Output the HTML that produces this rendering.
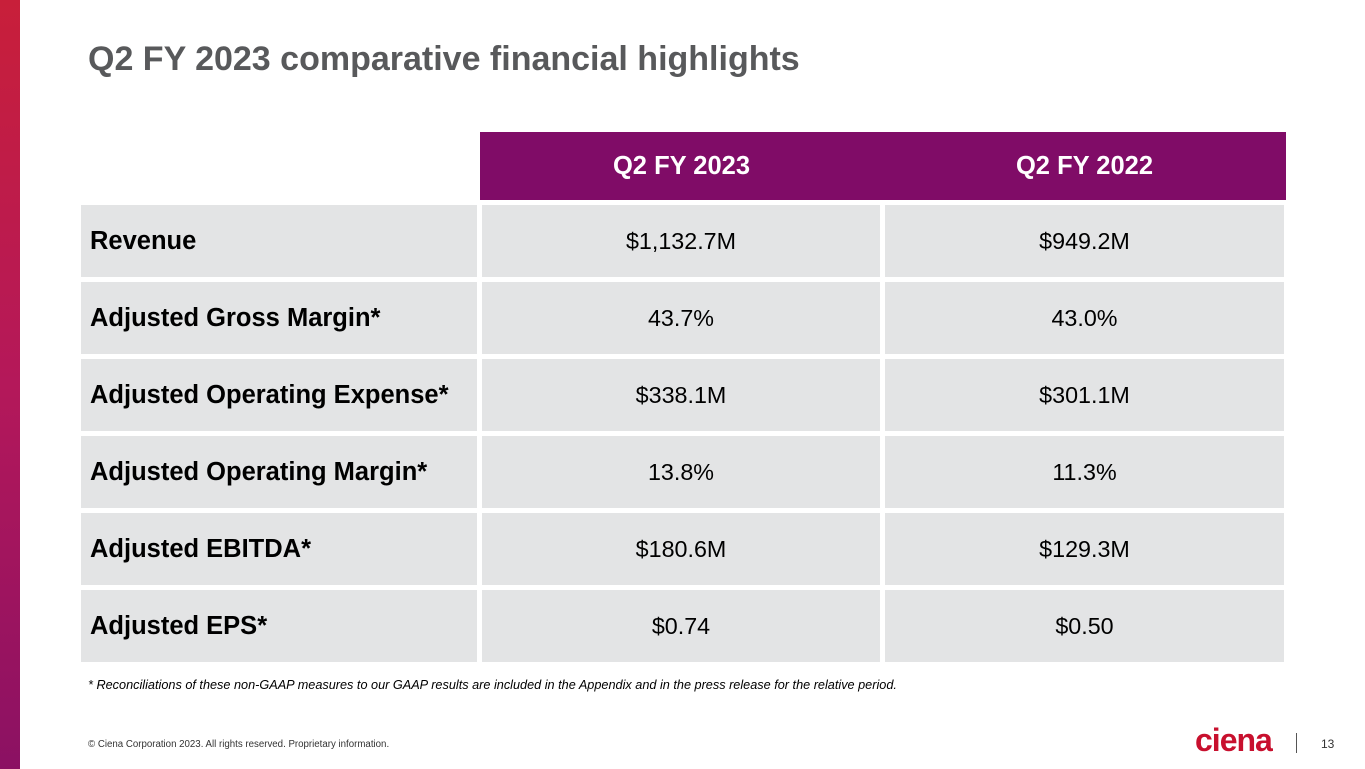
<!DOCTYPE html>
<html><head><meta charset="utf-8"><style>
body{margin:0;width:1365px;height:769px;position:relative;background:#fff;font-family:"Liberation Sans",Arial,sans-serif;overflow:hidden}
.bar{position:absolute;left:0;top:0;width:20px;height:769px;background:linear-gradient(#c81f3a,#b4185a 50%,#8b1163)}
h1{position:absolute;left:88px;top:40px;margin:0;font-size:34px;font-weight:bold;color:#58595b}
.c{position:absolute;background:#e3e4e5;height:72px;display:flex;align-items:center;font-size:23.3px;color:#000}
.l{left:81px;width:396px;font-weight:bold;padding-left:9px;box-sizing:border-box;font-size:25.5px}
.v1{left:482px;width:398px;justify-content:center}
.v2{left:885px;width:399px;justify-content:center}
.h{position:absolute;top:132px;height:68px;background:#800c67;color:#fff;font-weight:bold;font-size:25.5px;display:flex;align-items:center;justify-content:center}
.note{position:absolute;left:88px;top:678px;font-size:12.7px;font-style:italic;color:#000}
.copy{position:absolute;left:88px;top:739px;font-size:9.7px;color:#333}
.logo{position:absolute;left:1195px;top:722px;font-size:32px;font-weight:bold;color:#c8102e;letter-spacing:-1px}
.sep{position:absolute;left:1296px;top:733px;width:1px;height:20px;background:#555}
.pg{position:absolute;left:1321px;top:737px;font-size:12px;color:#333}
</style></head><body>
<div class="bar"></div>
<h1>Q2 FY 2023 comparative financial highlights</h1>
<div class="h" style="left:480px;width:403px">Q2 FY 2023</div>
<div class="h" style="left:883px;width:403px">Q2 FY 2022</div>
<div id="rows"></div>
<div class="note">* Reconciliations of these non-GAAP measures to our GAAP results are included in the Appendix and in the press release for the relative period.</div>
<div class="copy">© Ciena Corporation 2023. All rights reserved. Proprietary information.</div>
<div class="logo">ciena</div>
<div class="sep"></div>
<div class="pg">13</div>
<script>
const labels=["Revenue","Adjusted Gross Margin*","Adjusted Operating Expense*","Adjusted Operating Margin*","Adjusted EBITDA*","Adjusted EPS*"];
const fy2023=["$1,132.7M","43.7%","$338.1M","13.8%","$180.6M","$0.74"];
const fy2022=["$949.2M","43.0%","$301.1M","11.3%","$129.3M","$0.50"];
const root=document.getElementById('rows');
labels.forEach((lab,i)=>{
  const top=205+i*77;
  [[lab,'l','row-label'],[fy2023[i],'v1','value-q2-fy2023'],[fy2022[i],'v2','value-q2-fy2022']].forEach(([t,cls,n])=>{
    const d=document.createElement('div');
    d.className='c '+cls;d.style.top=top+'px';d.textContent=t;
    
    
    root.appendChild(d);
  });
});
</script>
</body></html>
